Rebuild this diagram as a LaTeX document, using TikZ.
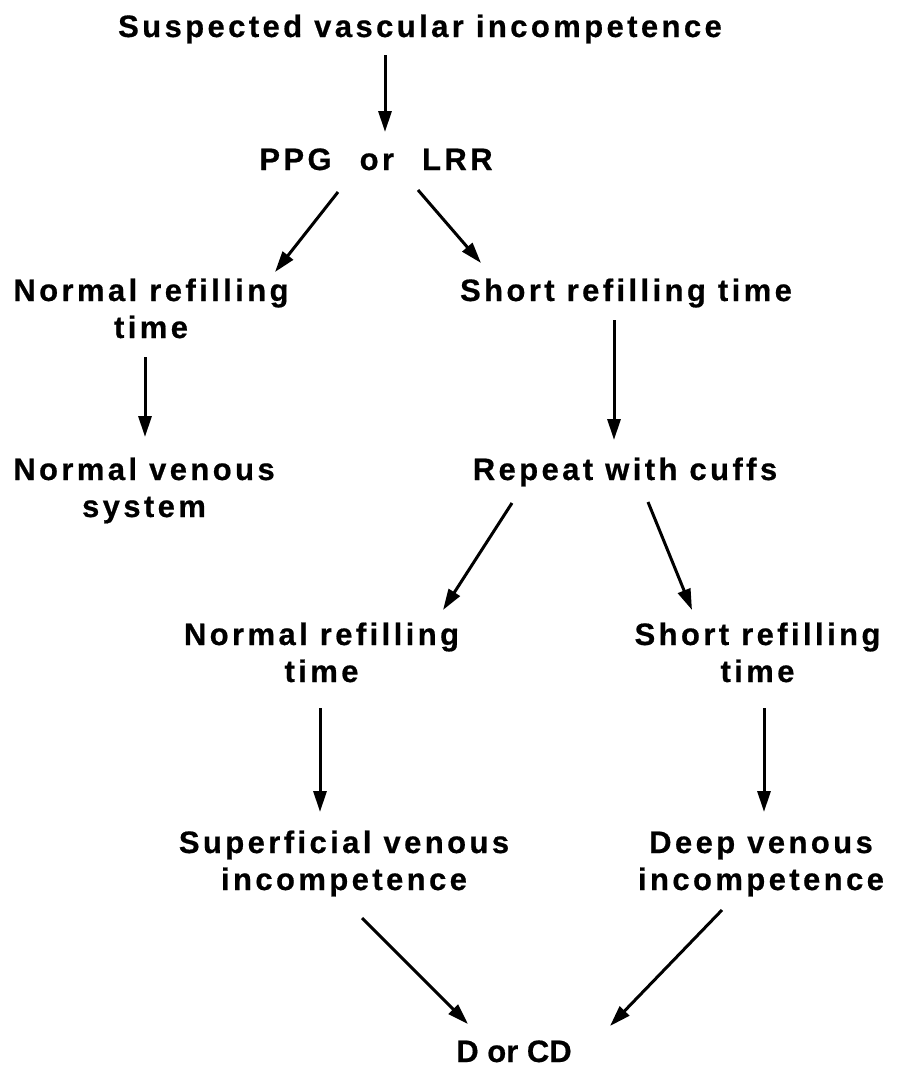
\documentclass[tikz,border=0pt]{standalone}
\usepackage{fontspec}
\setmainfont{Liberation Sans}[LetterSpace=11,BoldFeatures={FakeBold=0.6}]
\newfontfamily\tightfont{Liberation Sans}[BoldFeatures={FakeBold=0.6}]
\usetikzlibrary{arrows.meta}
\begin{document}
\begin{tikzpicture}[x=1pt,y=-1pt,
  lbl/.style={anchor=base,inner sep=0pt,align=center,font=\fontsize{31}{37}\selectfont\bfseries},
  arr/.style={line width=3pt,-{Triangle[length=21pt,width=13pt]}}]
\useasboundingbox (0,0) rectangle (901,1074);
\node[lbl] (top) at (420,37) {Suspected vascular incompetence};
\node[lbl] (ppg) at (376,170) {PPG\hspace{16pt} or\hspace{16pt} LRR};
\node[lbl] (nrt1) at (151,338) {Normal refilling\\time};
\node[lbl] (srt1) at (626,301) {Short refilling time};
\node[lbl] (nvs) at (144,517) {Normal venous\\system};
\node[lbl] (rwc) at (625,480) {Repeat with cuffs};
\node[lbl] (nrt2) at (321.5,682) {Normal refilling\\time};
\node[lbl] (srt2) at (757.5,682) {Short refilling\\time};
\node[lbl] (svi) at (344,890) {Superficial venous\\incompetence};
\node[lbl] (dvi) at (761,890) {Deep venous\\incompetence};
\node[lbl] (dcd) at (514,1062) {\tightfont\bfseries D or CD};
\draw[arr] ([shift={(-35,18)}]top.base) -- ([shift={(9,-38)}]ppg.base);
\draw[arr] ([shift={(-38,22)}]ppg.base) -- ([shift={(124,-66)}]nrt1.base);
\draw[arr] ([shift={(42,20)}]ppg.base) -- ([shift={(-145,-38)}]srt1.base);
\draw[arr] ([shift={(-6,19)}]nrt1.base) -- ([shift={(1,-80)}]nvs.base);
\draw[arr] ([shift={(-12,19)}]srt1.base) -- ([shift={(-11,-40)}]rwc.base);
\draw[arr] ([shift={(-113,23)}]rwc.base) -- ([shift={(121.5,-72)}]nrt2.base);
\draw[arr] ([shift={(23,22)}]rwc.base) -- ([shift={(-65.5,-72)}]srt2.base);
\draw[arr] ([shift={(-1.5,26)}]nrt2.base) -- ([shift={(-24,-78)}]svi.base);
\draw[arr] ([shift={(6.5,26)}]srt2.base) -- ([shift={(3,-78)}]dvi.base);
\draw[arr] ([shift={(18,28)}]svi.base) -- ([shift={(-46,-38)}]dcd.base);
\draw[arr] ([shift={(-39,20)}]dvi.base) -- ([shift={(96,-36)}]dcd.base);
\end{tikzpicture}
\end{document}
